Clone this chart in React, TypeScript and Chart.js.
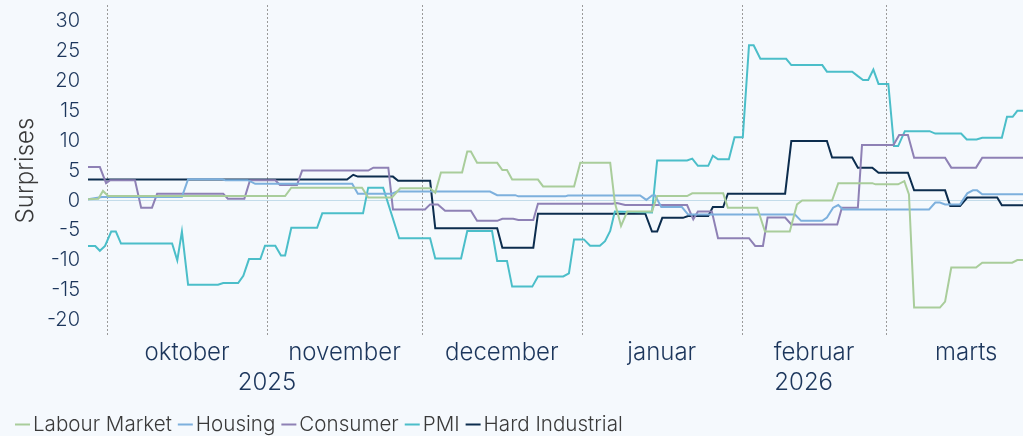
import { useEffect, useRef } from 'react';
import { Chart, registerables } from 'chart.js';

Chart.register(...registerables);

// x values are day numbers counted from 1 September 2025 (1 Oct = 30, 1 Jan = 122, 1 Mar = 181)
const monthStarts = [30, 61, 91, 122, 153, 181];
const monthMids = [45.5, 76, 106.5, 137.5, 167, 196.5];
const monthLabels = ['oktober', 'november', 'december', 'januar', 'februar', 'marts'];
const yearPos = [61, 165];
const yearLabels = ['2025', '2026'];
const yTicks = [-20, -15, -10, -5, 0, 5, 10, 15, 20, 25, 30];

const seriesNames = ['Labour Market', 'Housing', 'Consumer', 'PMI', 'Hard Industrial'];
const seriesColors = ['#a9cd9b', '#7db0dd', '#8e81b5', '#4bbec9', '#0c2d4e'];

const labourDays = [26.3, 28.3, 29.2, 30.2, 64.5, 65.7, 79.4, 80.6, 85.2, 86.8, 92.6, 93.6, 94.7, 98.8, 99.8, 100.5, 101.7, 105.6, 106.6, 107.5, 108.5, 113.5, 114.5, 120.5, 121.7, 127.5, 128.4, 129.6, 130.8, 135.6, 136.6, 142.4, 143.4, 149.4, 150.3, 156.0, 157.5, 162.3, 163.7, 164.7, 170.5, 171.7, 178.3, 178.9, 183.3, 184.5, 185.4, 186.4, 191.4, 192.4, 193.6, 198.4, 199.6, 205.4, 206.4, 207.5];
const labourVals = [0.2, 0.3, 1.6, 0.75, 0.75, 2.15, 2.15, 0.5, 0.5, 2.05, 2.05, 1.3, 4.7, 4.7, 8.2, 8.2, 6.3, 6.3, 5.1, 5.1, 3.5, 3.5, 2.35, 2.35, 6.3, 6.3, -0.35, -4.25, -1.85, -1.85, 0.75, 0.75, 1.2, 1.2, -1.2, -1.2, -5.2, -5.2, -0.65, 0.0, 0.0, 2.9, 2.9, 2.7, 2.7, 3.25, 1.0, -17.9, -17.9, -16.9, -11.2, -11.2, -10.4, -10.4, -9.95, -9.95];

const housingDays = [26.3, 29.0, 44.5, 45.7, 52.3, 52.9, 57.3, 58.7, 77.5, 78.6, 85.2, 86.2, 104.2, 105.6, 109.1, 109.7, 118.8, 119.3, 133.3, 134.5, 135.6, 136.2, 137.4, 141.4, 142.6, 163.3, 164.5, 168.6, 169.5, 170.7, 171.7, 172.6, 189.3, 190.5, 191.4, 192.4, 195.3, 196.7, 197.8, 198.6, 199.6, 207.5];
const housingVals = [0.2, 0.6, 0.6, 3.55, 3.55, 3.4, 3.4, 2.8, 2.8, 1.15, 1.15, 1.5, 1.5, 0.9, 0.9, 0.7, 0.7, 0.85, 0.85, 0.1, 0.85, 0.85, -1.1, -1.1, -2.35, -2.35, -3.4, -3.4, -2.85, -1.2, -0.75, -1.5, -1.5, -0.35, -0.35, -0.65, -0.65, 1.2, 1.7, 1.7, 1.05, 1.05];

const consumerDays = [26.3, 28.6, 29.8, 30.6, 35.4, 36.6, 38.7, 39.7, 52.5, 53.4, 56.6, 57.7, 62.6, 63.5, 66.8, 67.8, 80.6, 81.6, 84.5, 85.4, 91.6, 92.6, 94.1, 95.5, 100.5, 101.7, 105.6, 106.6, 108.7, 109.7, 112.6, 113.5, 127.9, 128.8, 130.4, 142.4, 143.6, 144.5, 147.2, 148.4, 154.4, 155.6, 157.1, 158.0, 161.4, 162.6, 171.5, 172.4, 175.5, 176.3, 182.4, 183.5, 185.2, 186.4, 192.4, 193.6, 198.4, 199.6, 207.5];
const consumerVals = [5.6, 5.6, 2.9, 3.4, 3.4, -1.2, -1.2, 1.15, 1.15, 0.3, 0.3, 3.4, 3.4, 2.6, 2.6, 5.0, 5.0, 5.5, 5.5, -1.5, -1.5, -0.65, -0.65, -1.7, -1.7, -3.4, -3.4, -3.05, -3.05, -3.25, -3.25, -0.55, -0.55, -0.4, -0.75, -0.75, -3.15, -1.85, -1.85, -6.3, -6.3, -7.6, -7.6, -2.85, -2.85, -4.0, -4.0, -1.2, -1.2, 9.3, 9.3, 10.95, 10.95, 7.15, 7.15, 5.5, 5.5, 7.15, 7.15];

const pmiDays = [26.3, 27.7, 28.6, 29.6, 30.8, 31.7, 32.7, 42.6, 43.6, 44.5, 45.7, 51.5, 52.5, 55.4, 56.4, 57.5, 59.7, 60.6, 62.6, 63.7, 64.5, 65.7, 70.7, 71.7, 79.6, 80.6, 83.5, 86.6, 92.6, 93.6, 98.6, 99.8, 104.6, 105.6, 107.5, 108.5, 112.4, 113.5, 118.4, 119.5, 120.5, 122.4, 123.6, 125.5, 126.5, 127.5, 128.4, 135.6, 136.6, 142.4, 143.4, 144.5, 146.5, 147.4, 148.4, 150.5, 151.6, 153.2, 154.4, 155.3, 156.6, 161.6, 162.6, 168.6, 169.5, 174.4, 175.5, 176.5, 177.5, 178.5, 179.5, 181.4, 182.5, 183.3, 184.6, 189.4, 190.5, 195.5, 196.6, 198.5, 199.6, 203.4, 204.4, 205.5, 206.4, 207.5];
const pmiVals = [-7.6, -7.6, -8.4, -7.6, -5.2, -5.2, -7.2, -7.2, -10.0, -5.2, -14.1, -14.1, -13.8, -13.8, -12.6, -9.8, -9.8, -7.55, -7.55, -9.2, -9.2, -4.55, -4.55, -2.15, -2.15, 2.15, 2.15, -6.3, -6.3, -9.7, -9.7, -5.1, -5.1, -10.1, -10.1, -14.4, -14.4, -12.7, -12.7, -12.2, -6.5, -6.5, -7.55, -7.55, -6.8, -5.1, -1.85, -2.0, 6.7, 6.7, 7.0, 5.8, 5.8, 7.5, 6.9, 6.9, 10.6, 10.6, 25.95, 25.95, 23.7, 23.7, 22.65, 22.65, 21.55, 21.55, 20.8, 20.15, 20.15, 21.9, 19.5, 19.5, 9.1, 9.1, 11.6, 11.6, 11.2, 11.2, 10.2, 10.2, 10.5, 10.5, 14.0, 14.0, 15.0, 15.0];

const hardDays = [26.3, 76.5, 77.7, 78.6, 85.4, 86.4, 92.6, 93.6, 105.6, 106.6, 112.6, 113.5, 134.3, 135.6, 136.6, 137.6, 141.6, 142.6, 146.5, 147.4, 149.4, 150.3, 161.4, 162.6, 169.5, 170.5, 174.4, 175.5, 178.3, 179.5, 185.2, 186.4, 192.4, 193.4, 195.3, 196.7, 202.5, 203.4, 207.5];
const hardVals = [3.5, 3.5, 4.3, 4.0, 4.0, 3.3, 3.3, -4.65, -4.65, -7.9, -7.9, -2.2, -2.2, -5.2, -5.2, -2.9, -2.9, -2.6, -2.6, -1.1, -1.1, 1.15, 1.15, 9.95, 9.95, 7.2, 7.2, 5.5, 5.5, 4.65, 4.65, 1.7, 1.7, -0.9, -0.9, 0.5, 0.5, -0.8, -0.8];

const seriesDays = [labourDays, housingDays, consumerDays, pmiDays, hardDays];
const seriesVals = [labourVals, housingVals, consumerVals, pmiVals, hardVals];

const X_MIN = 26.3;
const X_MAX = 207.5;
const Y_MIN = -22.66;
const Y_MAX = 32.7;

const BG = '#f5f9fd';
const NAVY = '#1c365c';
const GREY_TEXT = '#3a3a3a';
const FONT = 'Inter, "Open Sans", sans-serif';

const bgPlugin = {
  id: 'pageBg',
  beforeDraw(chart: any) {
    const { ctx, width, height } = chart;
    ctx.save();
    ctx.fillStyle = BG;
    ctx.fillRect(0, 0, width, height);
    ctx.restore();
  },
};

const monthLinesPlugin = {
  id: 'monthLines',
  beforeDatasetsDraw(chart: any) {
    const { ctx, chartArea, scales } = chart;
    ctx.save();
    ctx.strokeStyle = '#9a9a9a';
    ctx.lineWidth = 1;
    ctx.setLineDash([2, 2]);
    monthStarts.forEach((v) => {
      const x = Math.round(scales.x.getPixelForValue(v)) + 0.5;
      ctx.beginPath();
      ctx.moveTo(x, chartArea.top);
      ctx.lineTo(x, chartArea.bottom);
      ctx.stroke();
    });
    ctx.restore();
  },
};

// compact legend: short line marker, small gap, label
const legendPlugin = {
  id: 'compactLegend',
  afterDraw(chart: any) {
    const { ctx } = chart;
    ctx.save();
    ctx.font = `300 20.6px ${FONT}`;
    ctx.textBaseline = 'middle';
    ctx.textAlign = 'left';
    let x = 15;
    const y = 424.5;
    chart.data.datasets.forEach((ds: any) => {
      ctx.fillStyle = ds.borderColor;
      ctx.fillRect(x, y - 1, 15, 2);
      x += 18;
      ctx.fillStyle = GREY_TEXT;
      ctx.fillText(ds.label, x, y);
      x += ctx.measureText(ds.label).width + 6;
    });
    ctx.restore();
  },
};

const noPad = (scale: any) => {
  scale.paddingTop = 0;
  scale.paddingBottom = 0;
  scale.paddingLeft = 0;
  scale.paddingRight = 0;
};

export default function App() {
  const canvasRef = useRef<HTMLCanvasElement | null>(null);

  useEffect(() => {
    document.body.style.margin = '0';
    document.body.style.background = BG;
    document.documentElement.style.overflow = 'hidden';
    const canvas = canvasRef.current;
    if (!canvas) return;

    const datasets = seriesNames.map((name, i) => ({
      label: name,
      data: seriesDays[i].map((d, j) => ({ x: d, y: seriesVals[i][j] })),
      borderColor: seriesColors[i],
      backgroundColor: seriesColors[i],
      borderWidth: 2,
      pointRadius: 0,
      tension: 0,
      fill: false,
    }));

    const chart = new Chart(canvas, {
      type: 'line',
      data: { datasets },
      plugins: [bgPlugin, monthLinesPlugin, legendPlugin],
      options: {
        animation: false,
        responsive: true,
        maintainAspectRatio: false,
        events: [],
        layout: { padding: { top: 5, right: 0, bottom: 37, left: 0 } },
        plugins: {
          tooltip: { enabled: false },
          legend: { display: false },
        },
        scales: {
          x: {
            type: 'linear',
            position: 'bottom',
            min: X_MIN,
            max: X_MAX,
            bounds: 'data',
            grid: { display: false, drawTicks: false },
            border: { display: false },
            afterBuildTicks: (scale: any) => {
              scale.ticks = monthMids.map((v) => ({ value: v }));
            },
            afterFit: (scale: any) => {
              scale.height = 31;
              noPad(scale);
            },
            ticks: {
              autoSkip: false,
              maxRotation: 0,
              minRotation: 0,
              padding: 2,
              color: NAVY,
              font: { family: FONT, size: 24, weight: '300' },
              callback: (_v: any, i: number) => monthLabels[i],
            },
          },
          x2: {
            type: 'linear',
            position: 'bottom',
            min: X_MIN,
            max: X_MAX,
            bounds: 'data',
            grid: { display: false, drawTicks: false },
            border: { display: false },
            afterBuildTicks: (scale: any) => {
              scale.ticks = yearPos.map((v) => ({ value: v }));
            },
            afterFit: (scale: any) => {
              scale.height = 32;
              noPad(scale);
            },
            ticks: {
              autoSkip: false,
              maxRotation: 0,
              minRotation: 0,
              padding: 1,
              color: NAVY,
              font: { family: FONT, size: 24, weight: '300' },
              callback: (_v: any, i: number) => yearLabels[i],
            },
          },
          y: {
            type: 'linear',
            min: Y_MIN,
            max: Y_MAX,
            bounds: 'data',
            border: { display: false },
            grid: {
              drawTicks: false,
              lineWidth: 1,
              color: (ctx: any) =>
                ctx.tick && ctx.tick.value === 0 ? '#c3dcea' : 'rgba(0,0,0,0)',
            },
            afterBuildTicks: (scale: any) => {
              scale.ticks = yTicks.map((v) => ({ value: v }));
            },
            afterFit: (scale: any) => {
              scale.width = 88;
              noPad(scale);
            },
            ticks: {
              autoSkip: false,
              padding: 8,
              color: NAVY,
              font: { family: FONT, size: 20, weight: '300' },
            },
            title: {
              display: true,
              text: 'Surprises',
              color: GREY_TEXT,
              padding: { top: 11, bottom: 0 },
              font: { family: FONT, size: 24, weight: '300' },
            },
          },
        },
      },
    } as any);

    return () => {
      chart.destroy();
    };
  }, []);

  return (
    <div style={{ position: 'relative', width: '1023px', height: '436px', background: BG }}>
      <canvas ref={canvasRef} />
    </div>
  );
}
